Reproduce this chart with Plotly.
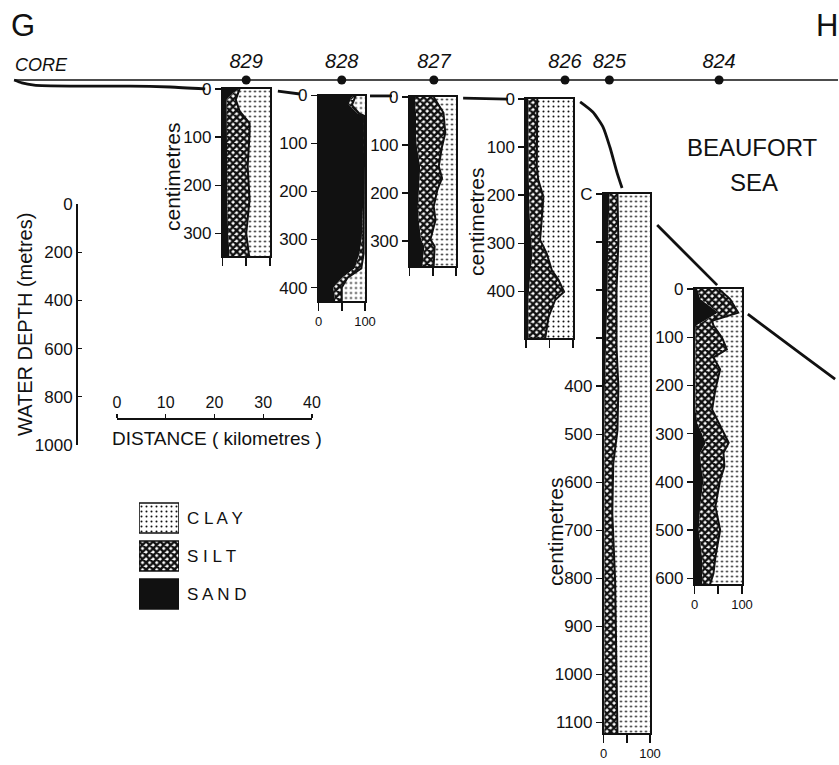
import plotly.graph_objects as go

W, H = 839, 765

# ---- section profile (distance km, water depth m)
CORE_NAMES = ["829", "828", "827", "826", "825", "824"]
CORE_KM = [26.5, 46.1, 65.0, 91.9, 101.0, 123.5]
CORE_SURFACE_M = [0, 0, 0, 0, 0, 0]
SURFACE_KM = [-21.1, 147.9]
SURFACE_M = [0, 0]
SEAFLOOR_KM = [-21.1, -19.5, -17.0, -9.6, 2.7, 10.9, 18.1, None,
               33.0, 37.5, None, 51.9, 56.4, None, 71.0, 80.2, None,
               95.0, 97.6, 99.7, 101.1, 102.6, 103.6, None,
               110.8, 123.1, None, 129.4, 140.1, 147.3]
SEAFLOOR_M = [0, 12, 21, 25, 25, 29, 37, None,
              46, 58, None, 66, 66, None, 75, 79, None,
              91, 133, 195, 278, 386, 448, None,
              602, 851, None, 971, 1133, 1241]

# ---- core 829
D829 = [0, 10, 22, 46, 71, 92, 161, 230, 300, 347]
SAND829 = [35, 20, 9, 9, 10, 10, 10, 10, 12, 15]
SILT829 = [1, 12, 19, 27, 47, 47, 43, 47, 38, 41]
CLAY829 = [64, 68, 72, 64, 43, 43, 47, 43, 50, 44]
# ---- core 828
D828 = [0, 5, 20, 38, 42, 100, 200, 300, 330, 360, 380, 400, 428]
SAND828 = [74, 70, 65, 85, 97, 96, 97, 93, 88, 78, 50, 32, 36]
SILT828 = [6, 8, 7, 3, 1, 2, 1, 4, 9, 14, 12, 18, 14]
CLAY828 = [20, 22, 28, 12, 2, 2, 2, 3, 3, 8, 38, 50, 50]
# ---- core 827
D827 = [0, 12, 33, 75, 103, 144, 169, 193, 228, 256, 297, 311, 352]
SAND827 = [12, 12, 14, 14, 16, 23, 22, 20, 18, 20, 25, 32, 28]
SILT827 = [40, 48, 59, 63, 54, 40, 48, 40, 34, 36, 20, 22, 24]
CLAY827 = [48, 40, 27, 23, 30, 37, 30, 40, 48, 44, 55, 46, 48]
# ---- core 826
D826 = [0, 71, 140, 168, 203, 244, 293, 321, 356, 376, 401, 418, 453, 497]
SAND826 = [5, 5, 5, 6, 7, 8, 11, 14, 10, 8, 6, 5, 5, 5]
SILT826 = [19, 19, 18, 20, 30, 26, 19, 30, 45, 61, 75, 57, 43, 36]
CLAY826 = [76, 76, 77, 74, 63, 66, 70, 56, 45, 31, 19, 38, 52, 59]
# ---- core 825
D825 = [0, 100, 200, 318, 401, 492, 561, 665, 804, 908, 1122]
SAND825 = [13, 10, 9, 5, 3, 2, 2, 2, 2, 2, 2]
SILT825 = [17, 22, 19, 23, 29, 28, 19, 17, 23, 25, 28]
CLAY825 = [70, 68, 72, 72, 68, 70, 79, 81, 75, 73, 70]
# ---- core 824
D824 = [0, 21, 49, 66, 76, 101, 125, 142, 167, 208, 250, 278, 319, 340, 368, 396, 451, 500, 556, 590, 612]
SAND824 = [6, 12, 50, 20, 3, 2, 2, 2, 1, 1, 2, 6, 24, 12, 14, 19, 12, 9, 16, 16, 16]
SILT824 = [45, 63, 42, 17, 37, 56, 66, 38, 53, 43, 35, 45, 48, 49, 49, 35, 32, 45, 28, 24, 17]
CLAY824 = [49, 25, 8, 63, 60, 42, 32, 60, 46, 56, 63, 49, 28, 39, 37, 46, 56, 46, 56, 60, 67]

CORE_SERIES = [(D829, SAND829, SILT829, CLAY829), (D828, SAND828, SILT828, CLAY828),
               (D827, SAND827, SILT827, CLAY827), (D826, SAND826, SILT826, CLAY826),
               (D825, SAND825, SILT825, CLAY825), (D824, SAND824, SILT824, CLAY824)]

# ---- tick labels
PCT_TICKS = [0, 50, 100]
PCT_LABELS = ["0", "", "100"]
DEPTH_TICKS_829 = [0, 100, 200, 300]
DEPTH_TICKS_828 = [0, 100, 200, 300, 400]
DEPTH_TICKS_825 = [0, 100, 200, 300, 400, 500, 600, 700, 800, 900, 1000, 1100]
DEPTH_LABELS_825 = ["C", "", "", "", "400", "500", "600", "700", "800", "900", "1000", "1100"]
DEPTH_TICKS_824 = [0, 100, 200, 300, 400, 500, 600]
WATER_TICKS = [0, 200, 400, 600, 800, 1000]
DIST_TICKS = [0, 10, 20, 30, 40]
LEGEND_NAMES = ["CLAY", "SILT", "SAND"]
LEGEND_LABELS = ["C L A Y", "S I L T", "S A N D"]
LEGEND_VALUES = [1, 1, 1]

FONT = "Liberation Sans"
INK = "#111111"

CLAY_PAT = dict(shape=".", size=5, solidity=0.13, fgcolor=INK, bgcolor="white", fillmode="replace")
SILT_PAT = dict(shape="x", size=5, solidity=0.72, fgcolor=INK, bgcolor="white", fillmode="replace")


def xd(a, b):
    return [a / W, b / W]


def yd(top, bottom):
    return [1 - bottom / H, 1 - top / H]


fig = go.Figure()

# main section: x=km, y=m
fig.add_trace(go.Scatter(x=SURFACE_KM, y=SURFACE_M, mode="lines", line=dict(color=INK, width=1.4),
                         hoverinfo="skip", xaxis="x", yaxis="y"))
fig.add_trace(go.Scatter(x=SEAFLOOR_KM, y=SEAFLOOR_M, mode="lines", connectgaps=False,
                         line=dict(color=INK, width=2.8, shape="spline", smoothing=0.6),
                         hoverinfo="skip", xaxis="x", yaxis="y"))
fig.add_trace(go.Scatter(x=CORE_KM, y=CORE_SURFACE_M, mode="markers+text",
                         marker=dict(color=INK, size=9),
                         text=[f"<i>{n}</i>" for n in CORE_NAMES], textposition="top center",
                         textfont=dict(family=FONT, size=20, color=INK),
                         hoverinfo="skip", xaxis="x", yaxis="y"))

# scale axes: share one subplot
fig.add_trace(go.Scatter(x=[0, 40], y=[0, 1000], mode="none", hoverinfo="skip", xaxis="x2", yaxis="y2"))

# legend swatches
fig.add_trace(go.Bar(x=LEGEND_VALUES[:1], y=LEGEND_NAMES[:1], orientation="h", width=0.79,
                     marker=dict(pattern=CLAY_PAT, color="white", line=dict(color=INK, width=1.6)),
                     hoverinfo="skip", xaxis="x3", yaxis="y3"))
fig.add_trace(go.Bar(x=LEGEND_VALUES[1:2], y=LEGEND_NAMES[1:2], orientation="h", width=0.79,
                     marker=dict(pattern=SILT_PAT, color="white", line=dict(color=INK, width=1.6)),
                     hoverinfo="skip", xaxis="x3", yaxis="y3"))
fig.add_trace(go.Bar(x=LEGEND_VALUES[2:], y=LEGEND_NAMES[2:], orientation="h", width=0.79,
                     marker=dict(color=INK, line=dict(color=INK, width=1.6)),
                     hoverinfo="skip", xaxis="x3", yaxis="y3"))

# layout geometry of each core: left, right, zero-line, bottom pixel, depth range, ticks
GEOM = [
    (222.5, 270, 89, 256, 347, DEPTH_TICKS_829, None, False),
    (318.5, 365, 95.5, 301, 428, DEPTH_TICKS_828, None, True),
    (409.5, 456, 97, 266, 352, DEPTH_TICKS_829, None, False),
    (526, 573, 99, 338, 497, DEPTH_TICKS_828, None, False),
    (603.5, 650, 194, 733, 1122, DEPTH_TICKS_825, DEPTH_LABELS_825, True),
    (694.5, 742, 289, 584, 612, DEPTH_TICKS_824, None, True),
]

layout_axes = {}
for i, ((d, sand, silt, clay), g) in enumerate(zip(CORE_SERIES, GEOM)):
    n = i + 4
    xa, ya = f"x{n}", f"y{n}"
    sg = f"core{n}"
    fig.add_trace(go.Scatter(x=sand, y=d, mode="lines", orientation="h", stackgroup=sg,
                             line=dict(width=0), fillcolor=INK, hoverinfo="skip", xaxis=xa, yaxis=ya))
    fig.add_trace(go.Scatter(x=silt, y=d, mode="lines", orientation="h", stackgroup=sg,
                             line=dict(width=2, color=INK), fillpattern=SILT_PAT, hoverinfo="skip",
                             xaxis=xa, yaxis=ya))
    fig.add_trace(go.Scatter(x=clay, y=d, mode="lines", orientation="h", stackgroup=sg,
                             line=dict(width=0), fillpattern=CLAY_PAT, hoverinfo="skip",
                             xaxis=xa, yaxis=ya))
    left, right, top, bottom, dmax, ticks, labels, show_pct = g
    layout_axes[f"xaxis{n}"] = dict(
        domain=xd(left, right), range=[0, 100], anchor=ya, showgrid=False, zeroline=False, automargin=False,
        showline=True, mirror=True, linecolor=INK, linewidth=1.6,
        ticks="outside", ticklen=8, tickwidth=1.6, tickcolor=INK,
        tickvals=PCT_TICKS, ticktext=PCT_LABELS if show_pct else ["", "", ""],
        tickfont=dict(family=FONT, size=13, color=INK), ticklabelstandoff=0,
    )
    layout_axes[f"yaxis{n}"] = dict(
        domain=yd(top, bottom), range=[dmax, 0], anchor=xa, showgrid=False, zeroline=False, automargin=False,
        showline=True, mirror=True, linecolor=INK, linewidth=1.6,
        ticks="outside", ticklen=6, tickwidth=1.4, tickcolor=INK,
        tickvals=ticks, ticktext=labels if labels else [str(t) for t in ticks],
        tickfont=dict(family=FONT, size=17, color=INK),
    )


def note(text, px, py, size=17, angle=0, anchor="center"):
    return dict(text=text, x=px / W, y=1 - py / H, xref="paper", yref="paper", showarrow=False,
                xanchor=anchor, yanchor="middle", textangle=angle,
                font=dict(family=FONT, size=size, color=INK))


annotations = [
    note("G", 23, 26, 31),
    note("H", 827, 26, 31),
    note("<i>CORE</i>", 13, 65, 18, anchor="left"),
    note("BEAUFORT", 752, 148, 24),
    note("SEA", 754, 182, 24),
    note("centimetres", 172, 177, 21, -90),
    note("centimetres", 476, 222, 21, -90),
    note("centimetres", 555, 532, 21, -90),
    note("WATER DEPTH (metres)", 25, 325, 20, -90),
    note("DISTANCE ( kilometres )", 217, 438, 19),
]

fig.update_layout(
    width=W, height=H, margin=dict(l=0, r=0, t=0, b=0), autosize=False,
    showlegend=False, paper_bgcolor="white", plot_bgcolor="rgba(0,0,0,0)", barmode="overlay",
    xaxis=dict(domain=[0, 1], range=[-24.0, 148.1], visible=False, fixedrange=True, automargin=False),
    yaxis=dict(domain=[0, 1], range=[2842, -332], visible=False, fixedrange=True, automargin=False),
    xaxis2=dict(domain=xd(117, 312), range=[0, 40], side="top", anchor="free", position=1 - 418 / H, automargin=False,
                showgrid=False, zeroline=False, showline=True, linecolor=INK, linewidth=1.6,
                ticks="outside", ticklen=4, tickwidth=1.4, tickcolor=INK, tickvals=DIST_TICKS,
                tickfont=dict(family=FONT, size=16, color=INK)),
    yaxis2=dict(domain=yd(204, 445), range=[1000, 0], anchor="free", position=76 / W, automargin=False,
                showgrid=False, zeroline=False, showline=True, linecolor=INK, linewidth=1.6,
                ticks="inside", ticklen=4, tickwidth=1.4, tickcolor=INK, tickvals=WATER_TICKS,
                tickfont=dict(family=FONT, size=17, color=INK)),
    xaxis3=dict(domain=xd(139, 179), range=[0, 1], visible=False, anchor="y3", automargin=False),
    yaxis3=dict(domain=yd(499, 613), range=[2.5, -0.5], type="category", categoryorder="array", automargin=False,
                categoryarray=LEGEND_NAMES, anchor="x3", side="right", showgrid=False, zeroline=False,
                showline=False, ticks="", tickvals=LEGEND_NAMES, ticktext=LEGEND_LABELS,
                ticklabelstandoff=7, tickfont=dict(family=FONT, size=17, color=INK)),
    annotations=annotations,
    **layout_axes,
)

fig.write_html("out.html", config=dict(displayModeBar=False, staticPlot=True),
               post_script="document.body.style.margin='0';document.body.style.overflow='hidden';")
